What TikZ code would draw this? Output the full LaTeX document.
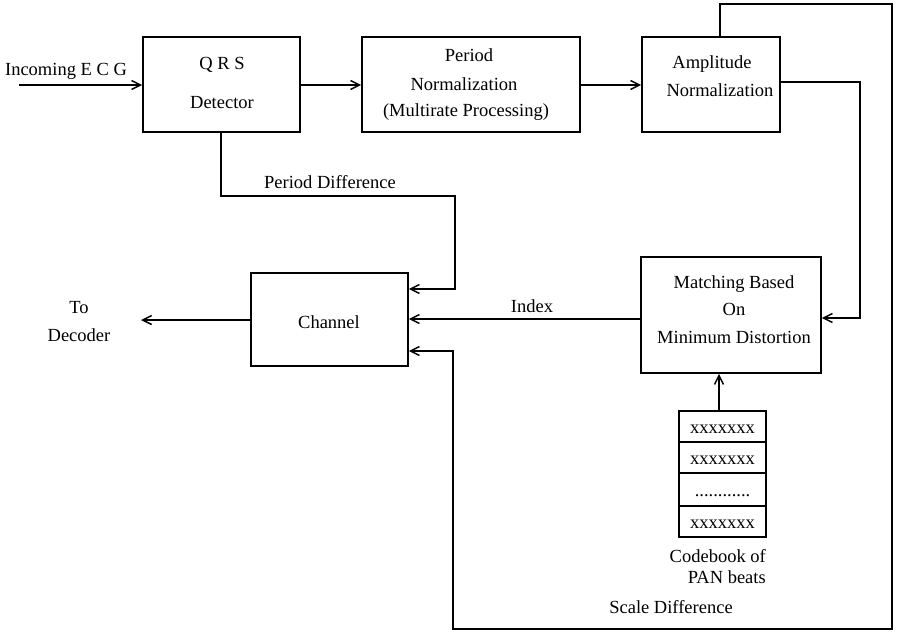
\documentclass[tikz,border=0pt]{standalone}
\usepackage{fontspec}
\setmainfont{Liberation Serif}
\usetikzlibrary{arrows.meta}
\begin{document}
\begin{tikzpicture}[x=1pt,y=-1pt,
  box/.style={draw, line width=1.6pt, inner sep=0pt},
  cell/.style={draw, line width=1.3pt, inner sep=0pt, minimum width=87pt,
    font=\fontsize{18.5}{20}\selectfont, text height=14pt, text depth=0pt},
  txt/.style={inner sep=0pt, font=\fontsize{18.5}{20}\selectfont, anchor=base},
  wire/.style={line width=1.5pt},
  arr/.style={wire, -{Straight Barb[length=9pt,width=9pt]}},
]
\useasboundingbox (0,0) rectangle (900,634);
% boxes
\node[box, minimum width=157pt, minimum height=95pt] (qrs) at (221.5,84.5) {};
\node[box, minimum width=218pt, minimum height=95pt] (per) at (471,84.5) {};
\node[box, minimum width=138pt, minimum height=95pt] (amp) at (711,84.5) {};
\node[box, minimum width=180pt, minimum height=116pt] (mat) at (731,315) {};
\node[box, minimum width=157pt, minimum height=93pt] (chan) at (329.5,319.5) {};
% codebook
\node[cell, minimum height=31pt] (c1) at (722.5,426.5) {xxxxxxx};
\node[cell, minimum height=31pt] (c2) at (722.5,457.5) {xxxxxxx};
\node[cell, minimum height=33pt] (c3) at (722.5,489.5) {............};
\node[cell, minimum height=31pt] (c4) at (722.5,521.5) {xxxxxxx};
% texts
\node[txt] (tin) at (66,76) {Incoming E C G};
\node[txt] (tq1) at (222,70) {Q R S};
\node[txt] (tq2) at (222,109) {Detector};
\node[txt] (tp1) at (469,62) {Period};
\node[txt] (tp2) at (464,91) {Normalization};
\node[txt] (tp3) at (466,117) {(Multirate Processing)};
\node[txt] (ta1) at (712,69) {Amplitude};
\node[txt] (ta2) at (720,96) {Normalization};
\node[txt] (tm1) at (734,288) {Matching Based};
\node[txt] (tm2) at (734,315) {On};
\node[txt] (tm3) at (734,343) {Minimum Distortion};
\node[txt] (tc) at (329,328) {Channel};
\node[txt] (tpd) at (330,188) {Period Difference};
\node[txt] (tidx) at (532,312) {Index};
\node[txt] (tto) at (79,313) {To};
\node[txt] (tdec) at (79,341) {Decoder};
\node[txt, anchor=base east] (tcb1) at (766,562) {Codebook of};
\node[txt, anchor=base east] (tcb2) at (766,583) {PAN beats};
\node[txt] (tsd) at (671,613) {Scale Difference};
% coordinates
\coordinate (in) at (19,85);
\coordinate (out) at (141,320);
\coordinate (r1) at (860,82);
\coordinate (pd) at (455,196);
\coordinate (lp) at (892,4);
\coordinate (sd) at (453,629);
% connectors
\draw[arr] (in) -- (in -| qrs.west);
\draw[arr] (qrs.east |- in) -- (per.west |- in);
\draw[arr] (per.east |- in) -- (amp.west |- in);
\draw[arr] (r1 -| amp.east) -- (r1) |- (mat.east |- 0,318);
\draw[arr] (mat.west |- 0,319) -- (chan.east |- 0,319);
\draw[arr] (chan.west |- out) -- (out);
\draw[arr] (qrs.south -| 221,0) -- (221,196) -- (pd) |- (chan.east |- 0,289);
\draw[arr] (amp.north -| 720,0) -- (720,4) -- (lp) |- (sd) |- (chan.east |- 0,351);
\draw[arr] (c1.north -| 719,0) -- (mat.south -| 719,0);
\end{tikzpicture}
\end{document}
